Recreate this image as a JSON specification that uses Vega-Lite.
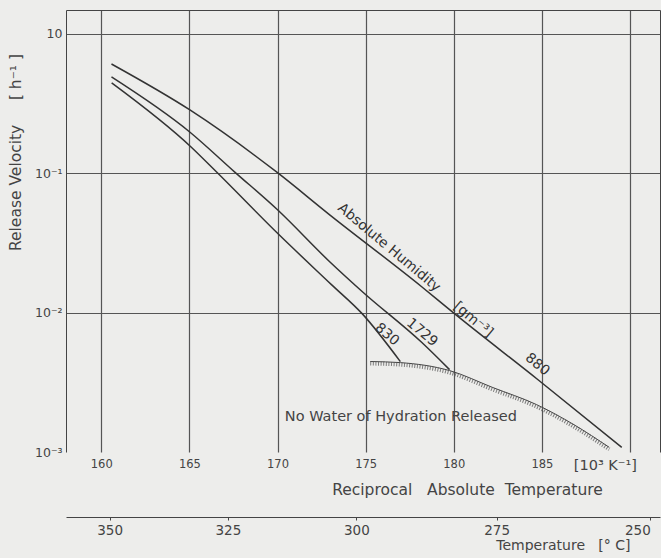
{
  "$schema": "https://vega.github.io/schema/vega-lite/v6.json",
  "width": 594,
  "height": 442,
  "autosize": "none",
  "padding": {"left": 66, "top": 10, "right": 1, "bottom": 106},
  "background": "#ededeb",
  "config": {
    "view": {"stroke": null},
    "font": "DejaVu Sans",
    "axis": {"labelColor": "#444", "titleColor": "#444", "titleFontWeight": "normal", "domainColor": "#444", "gridColor": "#555", "tickColor": "#444"}
  },
  "datasets": {
    "curves": [
      {"h": "880", "x": 160.58, "v": 0.609},
      {"h": "880", "x": 165.03, "v": 0.285},
      {"h": "880", "x": 170.0, "v": 0.101},
      {"h": "880", "x": 172.89, "v": 0.0512},
      {"h": "880", "x": 178.18, "v": 0.01535},
      {"h": "880", "x": 179.97, "v": 0.01},
      {"h": "880", "x": 184.78, "v": 0.0033},
      {"h": "880", "x": 189.53, "v": 0.00108},
      {"h": "1729", "x": 160.58, "v": 0.492},
      {"h": "1729", "x": 165.02, "v": 0.198},
      {"h": "1729", "x": 167.56, "v": 0.1025},
      {"h": "1729", "x": 170.0, "v": 0.0547},
      {"h": "1729", "x": 172.96, "v": 0.0232},
      {"h": "1729", "x": 174.88, "v": 0.0139},
      {"h": "1729", "x": 178.19, "v": 0.0061},
      {"h": "1729", "x": 179.76, "v": 0.0039},
      {"h": "830", "x": 160.59, "v": 0.445},
      {"h": "830", "x": 165.08, "v": 0.155},
      {"h": "830", "x": 166.53, "v": 0.1025},
      {"h": "830", "x": 170.09, "v": 0.0362},
      {"h": "830", "x": 173.06, "v": 0.0159},
      {"h": "830", "x": 174.8, "v": 0.00984},
      {"h": "830", "x": 176.97, "v": 0.00445}
    ],
    "boundary": [
      {"x": 175.26, "v": 0.00446},
      {"x": 176.97, "v": 0.00438},
      {"x": 179.76, "v": 0.00384},
      {"x": 182.22, "v": 0.0029},
      {"x": 184.69, "v": 0.00219},
      {"x": 186.82, "v": 0.00157},
      {"x": 188.82, "v": 0.00108}
    ],
    "rotlabels": [
      {"t": "Absolute Humidity", "x": 176.33, "v": 0.0292},
      {"t": "[gm⁻³]", "x": 181.1, "v": 0.0089},
      {"t": "1729", "x": 178.2, "v": 0.0072},
      {"t": "830", "x": 176.21, "v": 0.00696},
      {"t": "880", "x": 184.74, "v": 0.00424}
    ],
    "flatlabels": [
      {"t": "No Water of Hydration Released", "x": 177.0, "v": 0.00177},
      {"t": "[10³ K⁻¹]", "x": 188.6, "v": 0.000787}
    ]
  },
  "layer": [
    {
      "data": {"name": "curves"},
      "mark": {"type": "line", "color": "#333", "strokeWidth": 1.5, "interpolate": "monotone"},
      "encoding": {
        "x": {
          "field": "x", "type": "quantitative",
          "scale": {"domain": [158, 191.7], "nice": false, "zero": false},
          "axis": {
            "orient": "bottom", "values": [160, 165, 170, 175, 180, 185, 190],
            "labelExpr": "datum.value == 190 ? '' : datum.label",
            "domain": false, "ticks": false, "grid": true, "gridWidth": 1.2,
            "labelFontSize": 11.5, "labelPadding": 6,
            "title": "Reciprocal\u00a0\u00a0 Absolute\u00a0 Temperature", "titleFontSize": 15.5,
            "titleX": 401, "titleY": 37, "titleBaseline": "middle", "titleAlign": "center"
          }
        },
        "y": {
          "field": "v", "type": "quantitative",
          "scale": {"type": "log", "domain": [0.001, 1.486], "nice": false},
          "axis": {
            "orient": "left", "values": [1, 0.1, 0.01, 0.001],
            "labelExpr": "datum.value == 1 ? '10' : datum.value == 0.1 ? '10⁻¹' : datum.value == 0.01 ? '10⁻²' : '10⁻³'",
            "domain": true, "ticks": false, "grid": true, "gridWidth": 1.2,
            "gridOpacity": {"condition": {"test": "datum.value < 0.005", "value": 0}, "value": 1},
            "labelFontSize": 12.5, "labelPadding": 4,
            "title": "Release Velocity\u00a0\u00a0\u00a0\u00a0 [ h⁻¹ ]", "titleFontSize": 15.5,
            "titleX": -51, "titleY": 142, "titleAngle": -90, "titleBaseline": "middle", "titleAlign": "center"
          }
        },
        "detail": {"field": "h"}
      }
    },
    {
      "data": {"name": "boundary"},
      "mark": {"type": "line", "color": "#444", "strokeWidth": 1, "interpolate": "monotone"},
      "encoding": {
        "x": {"field": "x", "type": "quantitative", "axis": {"orient": "top", "labels": false, "ticks": false, "grid": false, "domain": true, "title": null}},
        "y": {"field": "v", "type": "quantitative", "axis": {"orient": "right", "labels": false, "ticks": false, "grid": false, "domain": true, "title": null}}
      }
    },
    {
      "data": {"name": "boundary"},
      "mark": {"type": "line", "color": "#555", "strokeWidth": 4, "strokeDash": [1, 1.6], "yOffset": 2, "opacity": 0.75, "interpolate": "monotone"},
      "encoding": {
        "x": {"field": "x", "type": "quantitative", "axis": null},
        "y": {"field": "v", "type": "quantitative", "axis": null}
      }
    },
    {
      "data": {"name": "rotlabels"},
      "mark": {"type": "text", "angle": 40, "fontSize": 14, "color": "#333", "baseline": "middle", "align": "center"},
      "encoding": {
        "x": {"field": "x", "type": "quantitative", "axis": null},
        "y": {"field": "v", "type": "quantitative", "axis": null},
        "text": {"field": "t"}
      }
    },
    {
      "data": {"name": "flatlabels"},
      "mark": {"type": "text", "fontSize": 14.5, "color": "#444", "baseline": "middle", "align": "center"},
      "encoding": {
        "x": {
          "field": "x", "type": "quantitative",
          "axis": {
            "orient": "bottom", "offset": 65,
            "values": [160.475, 167.182, 174.474, 182.432, 191.149],
            "labelExpr": "format(100000 / datum.value - 273.15, '.0f')",
            "labelAlign": {"condition": {"test": "datum.value > 190", "value": "right"}, "value": "center"},
            "domain": true, "ticks": true, "tickSize": 3, "grid": false,
            "labelFontSize": 13.5, "labelPadding": 3,
            "title": "Temperature\u00a0\u00a0 [° C]", "titleFontSize": 14,
            "titleX": 564, "titleY": 28, "titleAlign": "right", "titleBaseline": "middle"
          }
        },
        "y": {"field": "v", "type": "quantitative", "axis": null},
        "text": {"field": "t"}
      }
    }
  ],
  "resolve": {"axis": {"x": "independent", "y": "independent"}}
}
